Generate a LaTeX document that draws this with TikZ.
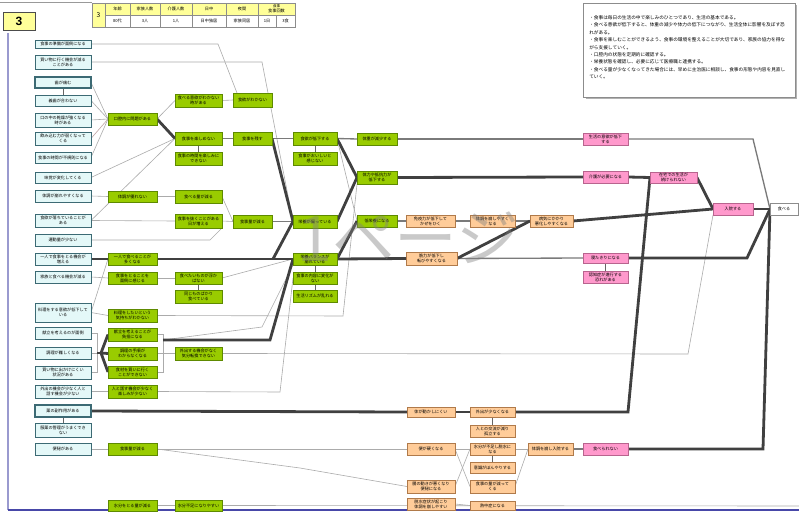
\documentclass[tikz,border=0pt]{standalone}
\usepackage{fontspec}
\newfontfamily\jp{Noto Sans CJK JP}
\newfontfamily\lsans{Liberation Sans}
\XeTeXlinebreaklocale "ja"
\XeTeXlinebreakskip=0pt
\usetikzlibrary{calc}
\definecolor{cyfill}{HTML}{E4F8F8}
\definecolor{cyline}{HTML}{3C6A74}
\definecolor{grfill}{HTML}{99CC00}
\definecolor{grline}{HTML}{5E8A00}
\definecolor{orfill}{HTML}{FFCC99}
\definecolor{orline}{HTML}{B07A4A}
\definecolor{pkfill}{HTML}{FF99CC}
\definecolor{pkline}{HTML}{B8648E}
\definecolor{ylfill}{HTML}{FFFF99}
\definecolor{framec}{HTML}{4848A8}
\pgfdeclarelayer{bg}
\pgfsetlayers{bg,main}
\tikzset{
  box/.style={draw, line width=0.6pt, inner sep=0.5pt, outer sep=0pt, align=flush center,
              font=\jp\fontsize{3.1}{3.7}\selectfont},
  cyb/.style={box, fill=cyfill, draw=cyline},
  cybold/.style={cyb, line width=1.1pt},
  grb/.style={box, fill=grfill, draw=grline},
  orb/.style={box, fill=orfill, draw=orline},
  pkb/.style={box, fill=pkfill, draw=pkline},
  whb/.style={box, fill=white, draw=black!45},
  tyl/.style={box, fill=ylfill, draw=black!45, line width=0.4pt},
  twh/.style={box, fill=white, draw=black!45, line width=0.4pt},
  thn/.style={draw=black!33, line width=0.45pt},
  med/.style={draw=black!52, line width=1pt},
  thk/.style={draw=black!75, line width=2.1pt},
  lnk/.style={draw=black!60, line width=0.5pt},
}
% \mkbox{name}{style}{x1}{y1}{x2}{y2}{text}, corners in px
\newcommand\mkbox[7]{%
  \pgfmathsetmacro\bxw{(#5-#3)*0.75}%
  \pgfmathsetmacro\bxh{(#6-#4)*0.75}%
  \pgfmathsetmacro\bxt{(#5-#3)*0.75-2}%
  \node[#2, minimum width=\bxw pt, minimum height=\bxh pt, text width=\bxt pt]
    (#1) at ({(#3+#5)/2},{(#4+#6)/2}) {#7};}
\begin{document}
\begin{tikzpicture}[x=0.75pt,y=-0.75pt]
\useasboundingbox (0,0) rectangle (799,513);
\begin{pgfonlayer}{bg}
\fill[white] (0,0) rectangle (799,513);
\end{pgfonlayer}

% frame
\draw[black!40, line width=0.5pt] (0,2.5) -- (92,2.5);
\draw[framec!55, line width=0.8pt] (8,33) -- (8,510);
\draw[framec, line width=1.4pt] (8,510) -- (799,510);

% sheet number
\node[draw=black!70, fill=ylfill, line width=0.7pt, minimum width=24pt, minimum height=13.5pt,
      font=\lsans\bfseries\fontsize{9}{9}\selectfont, inner sep=0pt] (num) at (19,21) {3};

% header table
\mkbox{t0}{tyl}{92}{3}{105}{27}{\fontsize{5}{5}\selectfont 3}
\mkbox{t1}{tyl}{105}{3}{130}{15}{年齢}
\mkbox{t2}{tyl}{130}{3}{160}{15}{家族人数}
\mkbox{t3}{tyl}{160}{3}{192}{15}{介護人数}
\mkbox{t4}{tyl}{192}{3}{226}{15}{日中}
\mkbox{t5}{tyl}{226}{3}{258}{15}{夜間}
\mkbox{t6}{tyl}{258}{3}{295}{15}{{\fontsize{2.6}{3}\selectfont 食事}\\食事回数}
\mkbox{u1}{twh}{105}{15}{130}{27}{80代}
\mkbox{u2}{twh}{130}{15}{160}{27}{3人}
\mkbox{u3}{twh}{160}{15}{192}{27}{1人}
\mkbox{u4}{twh}{192}{15}{226}{27}{日中独居}
\mkbox{u5}{twh}{226}{15}{258}{27}{家族同居}
\mkbox{u6}{twh}{258}{15}{276}{27}{1日}
\mkbox{u7}{twh}{276}{15}{295}{27}{3食}

% notes
\fill[black!30] (585.5,5.5) rectangle (797,99.5);
\draw[black!45, fill=white, line width=0.5pt] (583,3) rectangle (795,97);
\node[anchor=north west, text width=150pt, inner sep=0pt, align=flush left,
      font=\jp\fontsize{3.5}{5.6}\selectfont] (note) at (589,15) {%
・食事は毎日の生活の中で楽しみのひとつであり、生活の基本である。\par
・食べる意欲が低下すると、体重の減少や体力の低下につながり、生活全体に影響を及ぼす恐れがある。\par
・食事を楽しむことができるよう、食事の環境を整えることが大切であり、家族の協力を得ながら支援していく。\par
・口腔内の状態を定期的に確認する。\par
・栄養状態を確認し、必要に応じて医療職と連携する。\par
・食べる量が少なくなってきた場合には、早めに主治医に相談し、食事の形態や内容を見直していく。};

% causes
\mkbox{c1}{cyb}{35}{40}{91}{48}{食事の準備が面倒になる}
\mkbox{c2}{cyb}{35}{55}{91}{69}{買い物に行く機会が減る\\ことがある}
\mkbox{c3}{cybold}{35}{77}{91}{88}{歯が痛む}
\mkbox{c4}{cyb}{35}{95}{91}{106}{義歯が合わない}
\mkbox{c5}{cyb}{35}{113}{91}{127}{口の中の乾燥が強くなる\\時がある}
\mkbox{c6}{cyb}{35}{132}{91}{145}{飲み込む力が弱くなって\\くる}
\mkbox{c7}{cyb}{35}{152}{91}{163}{食事の時間が不規則になる}
\mkbox{c8}{cyb}{35}{172}{91}{183}{味覚が変化してくる}
\mkbox{c9}{cyb}{35}{190}{91}{202}{体調が崩れやすくなる}
\mkbox{c10}{cyb}{35}{214}{91}{227}{食欲が落ちていることが\\ある}
\mkbox{c11}{cyb}{35}{234}{91}{246}{運動量が少ない}
\mkbox{c12}{cyb}{35}{253}{91}{265}{一人で食事をとる機会が\\増える}
\mkbox{c13}{cyb}{35}{271}{91}{283}{家族と食べる機会が減る}
\mkbox{c14}{cyb}{35}{303}{91}{322}{料理をする意欲が低下して\\いる}
\mkbox{c15}{cyb}{35}{327}{91}{339}{献立を考えるのが面倒}
\mkbox{c16}{cyb}{35}{347}{91}{359}{調理が難しくなる}
\mkbox{c17}{cyb}{35}{366}{91}{379}{買い物に出かけにくい\\状況がある}
\mkbox{c18}{cyb}{35}{385}{91}{398}{外出の機会が少なく人と\\話す機会が少ない}
\mkbox{c19}{cybold}{35}{405}{91}{417}{薬の副作用がある}
\mkbox{c20}{cyb}{35}{423}{91}{437}{服薬の管理がうまくでき\\ない}
\mkbox{c21}{cyb}{35}{443}{91}{455}{便秘がある}

% first stage
\mkbox{g1}{grb}{108}{113}{157}{125}{口腔内に問題がある}
\mkbox{g2}{grb}{108}{191}{157}{202}{体調が優れない}
\mkbox{g3}{grb}{108}{253}{157}{265}{一人で食べることが\\多くなる}
\mkbox{g4}{grb}{108}{272}{157}{284}{食事をとることを\\面倒に感じる}
\mkbox{g5}{grb}{108}{309}{157}{322}{料理をしたいという\\気持ちがわかない}
\mkbox{g6}{grb}{108}{328}{157}{341}{献立を考えることが\\負担になる}
\mkbox{g7}{grb}{108}{347}{157}{360}{調理の手順が\\わからなくなる}
\mkbox{g8}{grb}{108}{366}{157}{378}{食材を買いに行く\\ことができない}
\mkbox{g9}{grb}{108}{385}{157}{398}{人と話す機会が少なく\\楽しみが少ない}
\mkbox{g10}{grb}{108}{443}{157}{455}{食事量が減る}
\mkbox{g11}{grb}{108}{500}{157}{511}{水分をとる量が減る}

% second stage
\mkbox{h1}{grb}{175}{94}{222}{107}{食べる意欲がわかない\\時がある}
\mkbox{h2}{grb}{175}{132}{222}{145}{食事を楽しめない}
\mkbox{h3}{grb}{175}{152}{222}{165}{食事の時間を楽しみに\\できない}
\mkbox{h4}{grb}{175}{190}{222}{203}{食べる量が減る}
\mkbox{h5}{grb}{175}{214}{222}{228}{食事を抜くことがある\\日が増える}
\mkbox{h6}{grb}{175}{272}{222}{284}{食べたいものが浮か\\ばない}
\mkbox{h7}{grb}{175}{290}{222}{303}{同じものばかり\\食べている}
\mkbox{h8}{grb}{175}{347}{222}{360}{外出する機会がなく\\気分転換できない}
\mkbox{h9}{grb}{175}{500}{222}{511}{水分不足になりやすい}

% third stage
\mkbox{k1}{grb}{233}{93}{272}{107}{食欲がわかない}
\mkbox{k2}{grb}{233}{132}{272}{145}{食事を残す}
\mkbox{k3}{grb}{233}{215}{272}{228}{食事量が減る}

% fourth stage
\mkbox{m1}{grb}{293}{132}{337}{145}{食欲が低下する}
\mkbox{m2}{grb}{293}{152}{337}{165}{食事がおいしいと\\感じない}
\mkbox{m3}{grb}{293}{215}{337}{228}{栄養が偏っている}
\mkbox{m4}{grb}{293}{253}{337}{265}{栄養バランスが\\崩れている}
\mkbox{m5}{grb}{293}{272}{337}{284}{食事の内容に変化が\\ない}
\mkbox{m6}{grb}{293}{290}{337}{302}{生活リズムが乱れる}

% fifth stage
\mkbox{n1}{grb}{357}{133}{397}{145}{体重が減少する}
\mkbox{n2}{grb}{357}{171}{397}{184}{体力や抵抗力が\\低下する}
\mkbox{n3}{grb}{357}{215}{397}{227}{低栄養になる}

% consequences
\mkbox{o1}{orb}{406}{215}{455}{227}{免疫力が低下して\\かぜをひく}
\mkbox{o2}{orb}{470}{215}{515}{227}{体調を崩しやすく\\なる}
\mkbox{o3}{orb}{530}{215}{573}{227}{病気にかかり\\悪化しやすくなる}
\mkbox{o4}{orb}{406}{252}{457}{265}{筋力が低下し\\転びやすくなる}
\mkbox{o5}{orb}{407}{407}{455}{417}{体が動かしにくい}
\mkbox{o6}{orb}{470}{407}{515}{417}{外出が少なくなる}
\mkbox{o7}{orb}{470}{425}{515}{437}{人との交流が減り\\孤立する}
\mkbox{o8}{orb}{407}{443}{455}{455}{便が硬くなる}
\mkbox{o9}{orb}{470}{443}{515}{455}{水分が不足し脱水に\\なる}
\mkbox{o10}{orb}{470}{462}{515}{473}{意識がぼんやりする}
\mkbox{o11}{orb}{407}{480}{455}{493}{腸の動きが悪くなり\\便秘になる}
\mkbox{o12}{orb}{470}{480}{515}{493}{食事の量が減って\\くる}
\mkbox{o13}{orb}{407}{498}{455}{510}{脱水症状が起こり\\体調を崩しやすい}
\mkbox{o14}{orb}{470}{501}{515}{510}{熱中症になる}
\mkbox{o15}{orb}{528}{443}{573}{455}{体調を崩し入院する}

% outcomes
\mkbox{p1}{pkb}{583}{133}{628}{145}{生活の意欲が低下\\する}
\mkbox{p2}{pkb}{583}{171}{628}{183}{介護が必要になる}
\mkbox{p3}{pkb}{583}{253}{628}{263}{寝たきりになる}
\mkbox{p4}{pkb}{583}{271}{628}{283}{認知症が進行する\\恐れがある}
\mkbox{p5}{pkb}{650}{172}{697}{183}{在宅での生活が\\続けられない}
\mkbox{p6}{pkb}{713}{203}{753}{215}{入院する}
\mkbox{p7}{pkb}{583}{443}{628}{455}{食べられない}
\mkbox{w}{whb}{770}{203}{798}{215}{食べる}

\begin{pgfonlayer}{bg}
% thin links
\draw[thn] (c1.east) -- (218,44) -- ([xshift=3pt]k1.north west);
\draw[thn] (c2.east) -- (262,62) -- (m3.west);
\draw[thn] (c3.east) -- (g1.west);
\draw[thn] (c4.east) -- (g1.west);
\draw[thn] (c5.east) -- (g1.west);
\draw[thn, draw=red!30!black!35] (c6.east) -- (g1.west);
\draw[thn] (c7.east) -- (g1.west);
\draw[lnk] (c3.south) -- (c4.north);
\draw[thn] (c8.east) -- (h2.west);
\draw[thn] (c9.east) -- (g2.west);
\draw[thn] (g2.east) -- (h4.west);
\draw[thn] (c10.east) -- (h2.west);
\draw[thn] (c10.east) -- (h5.west);
\draw[thn] (c11.east) -- (210,240) -- (h5.south east);
\draw[thn] (g1.east) -- (h1.west);
\draw[thn] (h1.east) -- (k1.west);
\draw[lnk] (h2.south) -- (h3.north);
\draw[thn] (h4.east) -- (k3.west);
\draw[thn] (h5.east) -- (k3.west);
\draw[lnk] (m1.south) -- (m2.north);
\draw[thn] (m1.east) -- (n3.west);
\draw[thn] (c13.east) -- (g4.west);
\draw[thn] (g4.east) -- (h6.west);
\draw[lnk] (h6.south) -- (h7.north);
\draw[thn] (h6.east) -- (m4.west);
\draw[lnk] (m4.south) -- (m5.north);
\draw[lnk] (m5.south) -- (m6.north);
\draw[thn] (c14.east) -- (g3.west);
\draw[thn] (c14.east) -- (g5.west);
\draw[thn] (g5.east) -- (343,316) -- (n2.south west);
\draw[thn] (c15.east) -- (97,333);
\draw[thn] (c16.east) -- (97,353);
\draw[thn] (c17.east) -- (97,372.5);
\draw[thn] (97,333) -- (97,372.5);
\draw[thn] (g6.east) -- (163,334.5) -- (163,372) -- (g8.east);
\draw[thn] (g7.east) -- (h8.west);
\draw[thn] (h8.east) -- (688,354) -- (p6.south west);
\draw[thn] (c18.east) -- (g9.west);
\draw[thn] (g9.east) -- (280,392) -- (m5.west);
\draw[thn] (163,340) -- (262,327) -- (m4.south west);
\draw[lnk] (c19.south) -- (c20.north);
\draw[thn] (c21.east) -- (g10.west);
\draw[thn] (g10.east) -- (o8.west);
\draw[thn] (g10.east) -- (300,468) -- (o11.west);
\draw[lnk] (o6.south) -- (o7.north);
\draw[thn] (o8.east) -- (o9.west);
\draw[thn] (o8.east) -- (o12.west);
\draw[thn] (o11.east) -- (o9.west);
\draw[lnk] (o9.south) -- (o10.north);
\draw[thn] (o9.east) -- (o15.west);
\draw[thn] (o12.east) -- (o15.west);
\draw[thn] (o13.east) -- (o14.west);
\draw[thn] (g11.east) -- (h9.west);
\draw[thn] (h9.east) -- (799,506);
\draw[lnk] (p3.south) -- (p4.north);
% medium links
\draw[med] (h2.east) -- (k2.west);
\draw[med] (k2.east) -- (m1.west);
\draw[med] (m1.east) -- (n1.west);
\draw[med] (n1.east) -- (p1.west);
\draw[med] (p1.east) -- (753,139) -- (w.west);
\draw[med] (k3.east) -- (m3.west);
\draw[med] (n3.east) -- (o1.west);
\draw[med] (o1.east) -- (o2.west);
\draw[med] (o2.east) -- (o3.west);
\draw[med] (o4.east) -- (p3.west);
\draw[med] (o15.east) -- (p7.west);
% main chains
\draw[thk] (g1.east) -- (h2.west);
\draw[thk] (k2.east) -- (m3.west);
\draw[thk] (m1.east) -- (n2.west);
\draw[thk] (m3.east) -- (n2.west);
\draw[thk] (n2.east) -- (p2.west);
\draw[thk] (p2.east) -- (p5.west);
\draw[thk] (p5.east) -- (p6.west);
\draw[thk] (p6.east) -- (w.west);
\draw[thk] (p3.east) -- (747,258) -- (w.west);
\draw[thk] (p7.east) -- (763,449) -- (w.west);
\draw[thk] (c12.east) -- (g3.west);
\draw[thk] (g3.east) -- (273,259) -- (m4.west);
\draw[thk] (273,259) -- (m3.west);
\draw[thk] (97,353) -- (101,353);
\draw[thk] (101,353) -- (g6.west);
\draw[thk] (101,353) -- (g7.west);
\draw[thk] (101,353) -- (g8.west);
\draw[thk] (163,340) -- (270,340) -- (m4.west);
\draw[thk] (m4.east) -- (n3.west);
\draw[thk] (m4.east) -- (o4.west);
\draw[thk] (o4.east) -- (o3.west);
\draw[thk] (o3.east) -- (p6.west);
\draw[thk] (c19.east) -- (o5.west);
\draw[thk] (o5.east) -- (o6.west);
\draw[thk] (o6.east) -- (628,412) -- (p5.west);
\end{pgfonlayer}

% page watermark
\node[anchor=base, inner sep=0pt, text=black!50, opacity=0.42,
      font=\jp\fontsize{47}{47}\selectfont] (wm) at (408,262) {1ページ};
\end{tikzpicture}
\end{document}
